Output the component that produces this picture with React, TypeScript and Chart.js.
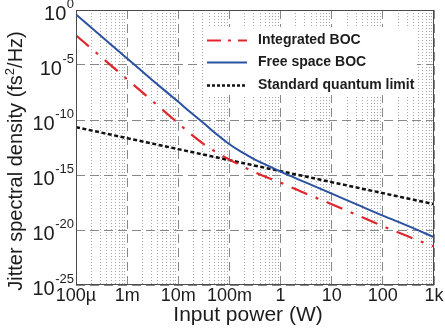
import { useEffect, useRef } from 'react';
import { Chart, registerables } from 'chart.js';

Chart.register(...registerables);

// Input power (W) sample positions
const powerW = [
  1e-4, 3.162e-4, 1e-3, 3.162e-3, 1e-2, 1.778e-2, 3.162e-2, 5.623e-2, 1e-1, 1.778e-1, 3.162e-1, 5.623e-1,
  1, 3.162, 10, 31.62, 100, 316.2, 1000,
];
// log10 of jitter spectral density (fs^2/Hz)
const integratedBocExp = [
  -2.3, -4.3, -6.3, -8.3, -10.3, -11.3, -12.2, -12.95, -13.6, -14.2, -14.75, -15.25,
  -15.7, -16.7, -17.65, -18.65, -19.65, -20.6, -21.5,
];
const freeSpaceBocExp = [
  -0.4, -2.4, -4.4, -6.4, -8.35, -9.35, -10.3, -11.3, -12.2, -12.95, -13.6, -14.15,
  -14.7, -15.7, -16.7, -17.7, -18.7, -19.65, -20.65,
];
const sqlPowerW = [1e-4, 1e-3, 1e-2, 1e-1, 1, 10, 100, 1000];
const sqlExp = [-10.65, -11.65, -12.65, -13.65, -14.65, -15.65, -16.65, -17.65];

const xTickValues = [1e-4, 1e-3, 1e-2, 1e-1, 1, 10, 100, 1000];
const xTickLabels = ['100µ', '1m', '10m', '100m', '1', '10', '100', '1k'];
const yTickExponents = [0, -5, -10, -15, -20, -25];
const seriesLabels = ['Integrated BOC', 'Free space BOC', 'Standard quantum limit'];
const xTitle = 'Input power (W)';
const yTitleParts = ['Jitter spectral density (fs', '2', '/Hz)'];

const FONT = '"Liberation Sans", Arial, Helvetica, sans-serif';
const TEXT = '#1c1c1c';
const RED = '#e1252c';
const BLUE = '#2a51a2';
const BLACK = '#111111';

export default function App() {
  const ref = useRef<HTMLCanvasElement>(null);

  useEffect(() => {
    const canvas = ref.current;
    if (!canvas) return;

    const isDecade = (v: number) => {
      const l = Math.log10(v);
      return Math.abs(l - Math.round(l)) < 1e-6;
    };
    const minorX: number[] = [];
    for (let i = 0; i < xTickValues.length - 1; i++) {
      for (let m = 2; m <= 9; m++) minorX.push(xTickValues[i] * m);
    }
    const allX = [...xTickValues, ...minorX].sort((a, b) => a - b);

    const styles = [
      { color: RED, width: 2.2, dash: [17, 9, 3, 9], sample: [14, 7, 3, 7] },
      { color: BLUE, width: 2, dash: [], sample: [] },
      { color: BLACK, width: 2.5, dash: [4, 2.5], sample: [3, 2] },
    ];

    const overlay = {
      id: 'overlay',
      afterDatasetsDraw(chart: any) {
        const { ctx, chartArea: a, scales } = chart;
        ctx.save();

        // frame
        ctx.strokeStyle = '#4a4a4a';
        ctx.lineWidth = 1;
        ctx.setLineDash([]);
        ctx.strokeRect(Math.round(a.left) + 0.5, Math.round(a.top) + 0.5, Math.round(a.right - a.left) - 1, Math.round(a.bottom - a.top) - 1);

        // legend
        const lx = 203, ly = 27, lw = 214, lh = 68;
        ctx.fillStyle = '#ffffff';
        ctx.fillRect(lx, ly, lw, lh);
        const rows = [40, 62, 85];
        ctx.font = `bold 14px ${FONT}`;
        ctx.textBaseline = 'middle';
        ctx.textAlign = 'left';
        seriesLabels.forEach((label, i) => {
          const s = styles[i];
          ctx.beginPath();
          ctx.strokeStyle = s.color;
          ctx.lineWidth = s.width;
          ctx.lineCap = 'butt';
          ctx.setLineDash(s.sample);
          ctx.moveTo(207, rows[i] + 0.5);
          ctx.lineTo(247, rows[i] + 0.5);
          ctx.stroke();
          ctx.setLineDash([]);
          ctx.fillStyle = TEXT;
          ctx.fillText(label, 258, rows[i]);
        });

        // y tick labels 10^n
        const ys = scales.y;
        ctx.fillStyle = TEXT;
        ctx.textBaseline = 'alphabetic';
        ctx.textAlign = 'left';
        yTickExponents.forEach((e) => {
          const py = ys.getPixelForValue(Math.pow(10, e));
          const expText = e === 0 ? '0' : `-${Math.abs(e)}`;
          ctx.font = `13px ${FONT}`;
          const we = ctx.measureText(expText).width;
          ctx.font = `20px ${FONT}`;
          const wb = ctx.measureText('10').width;
          const right = 74;
          ctx.fillText('10', right - we - wb - 0.5, py + 10);
          ctx.font = `13px ${FONT}`;
          ctx.fillText(expText, right - we, py - 2.5);
        });

        // x title
        ctx.font = `21px ${FONT}`;
        ctx.textAlign = 'center';
        ctx.fillText(xTitle, 248, 321);

        // y title (rotated, with superscript)
        ctx.translate(22, 161);
        ctx.rotate(-Math.PI / 2);
        ctx.textAlign = 'left';
        ctx.font = `20px ${FONT}`;
        const w1 = ctx.measureText(yTitleParts[0]).width;
        const w3 = ctx.measureText(yTitleParts[2]).width;
        ctx.font = `13px ${FONT}`;
        const w2 = ctx.measureText(yTitleParts[1]).width;
        let x0 = -(w1 + w2 + w3) / 2;
        ctx.font = `20px ${FONT}`;
        ctx.fillText(yTitleParts[0], x0, 0);
        x0 += w1;
        ctx.font = `13px ${FONT}`;
        ctx.fillText(yTitleParts[1], x0, -8);
        x0 += w2;
        ctx.font = `20px ${FONT}`;
        ctx.fillText(yTitleParts[2], x0, 0);

        ctx.restore();
      },
    };

    const chart = new Chart(canvas, {
      type: 'line',
      data: {
        datasets: [
          {
            label: seriesLabels[0],
            data: powerW.map((x, i) => ({ x, y: Math.pow(10, integratedBocExp[i]) })),
            borderColor: styles[0].color,
            borderWidth: styles[0].width,
            borderDash: styles[0].dash,
            borderCapStyle: 'butt',
            pointRadius: 0,
            cubicInterpolationMode: 'monotone',
            fill: false,
          },
          {
            label: seriesLabels[1],
            data: powerW.map((x, i) => ({ x, y: Math.pow(10, freeSpaceBocExp[i]) })),
            borderColor: styles[1].color,
            borderWidth: styles[1].width,
            pointRadius: 0,
            cubicInterpolationMode: 'monotone',
            fill: false,
          },
          {
            label: seriesLabels[2],
            data: sqlPowerW.map((x, i) => ({ x, y: Math.pow(10, sqlExp[i]) })),
            borderColor: styles[2].color,
            borderWidth: styles[2].width,
            borderDash: styles[2].dash,
            borderCapStyle: 'butt',
            pointRadius: 0,
            fill: false,
          },
        ],
      },
      options: {
        animation: false,
        responsive: false,
        devicePixelRatio: 1,
        layout: { padding: { left: 0, right: 11, top: 10, bottom: 0 } },
        plugins: { legend: { display: false }, tooltip: { enabled: false } },
        scales: {
          x: {
            type: 'logarithmic',
            min: 1e-4,
            max: 1e3,
            afterBuildTicks: (scale: any) => {
              scale.ticks = allX.map((v) => ({ value: v }));
            },
            afterFit: (scale: any) => {
              scale.height = 45;
            },
            border: {
              display: false,
              dash: (c: any) => (c.tick && isDecade(c.tick.value) ? [9, 5] : [1, 2]),
            },
            grid: {
              drawTicks: false,
              lineWidth: 1,
              color: (c: any) => (c.tick && isDecade(c.tick.value) ? '#888888' : '#a8a8a8'),
            },
            ticks: {
              autoSkip: false,
              maxRotation: 0,
              minRotation: 0,
              padding: 0,
              color: TEXT,
              font: { family: FONT, size: 18 },
              callback: (value: any) => {
                const v = Number(value);
                const idx = xTickValues.findIndex((t) => Math.abs(t - v) / t < 1e-6);
                return idx >= 0 ? xTickLabels[idx] : '';
              },
            },
          },
          y: {
            type: 'logarithmic',
            min: 1e-25,
            max: 1,
            afterBuildTicks: (scale: any) => {
              scale.ticks = yTickExponents.map((e) => ({ value: Math.pow(10, e) }));
            },
            afterFit: (scale: any) => {
              scale.width = 76;
            },
            border: { display: false, dash: [9, 5] },
            grid: { drawTicks: false, lineWidth: 1, color: '#888888' },
            ticks: { display: false },
          },
        },
      } as any,
      plugins: [overlay],
    });

    return () => chart.destroy();
  }, []);

  return (
    <div style={{ position: 'fixed', left: 0, top: 0, width: 445, height: 330, background: '#ffffff' }}>
      <canvas ref={ref} width={445} height={330} style={{ display: 'block', width: 445, height: 330 }} />
    </div>
  );
}
